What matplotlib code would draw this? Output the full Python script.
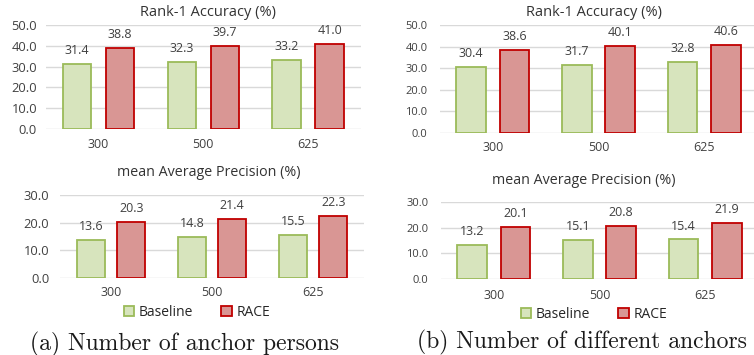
import matplotlib
matplotlib.use("Agg")
import matplotlib.pyplot as plt
import numpy as np

categories = ["300", "500", "625"]
series_names = ["Baseline", "RACE"]

# (a) Number of anchor persons
a_rank1_baseline = [31.4, 32.3, 33.2]
a_rank1_race = [38.8, 39.7, 41.0]
a_map_baseline = [13.6, 14.8, 15.5]
a_map_race = [20.3, 21.4, 22.3]

# (b) Number of different anchors
b_rank1_baseline = [30.4, 31.7, 32.8]
b_rank1_race = [38.6, 40.1, 40.6]
b_map_baseline = [13.2, 15.1, 15.4]
b_map_race = [20.1, 20.8, 21.9]

rank1_ticks = [0, 10, 20, 30, 40, 50]
map_ticks = [0, 10, 20, 30]

titles = ["Rank-1 Accuracy (%)", "mean Average Precision (%)"]
captions = ["(a) Number of anchor persons", "(b) Number of different anchors"]

W, H = 754, 355
fig = plt.figure(figsize=(W / 100, H / 100), dpi=100)

FONT = "Open Sans"
TXT = "#404040"
G_FILL, G_EDGE = "#D7E4BD", "#9BBB59"
R_FILL, R_EDGE = "#D99694", "#C00000"


def px_axes(x0, x1, ytop, ybot):
    return fig.add_axes([x0 / W, 1 - ybot / H, (x1 - x0) / W, (ybot - ytop) / H])


def draw(ax, base, race, ticks, pad_y, pad_x, yfs, fs, bw, off):
    x = np.arange(len(categories))
    b1 = ax.bar(x - off, base, bw, color=G_FILL, edgecolor=G_EDGE, linewidth=1.3, zorder=3)
    b2 = ax.bar(x + off, race, bw, color=R_FILL, edgecolor=R_EDGE, linewidth=1.3, zorder=3)
    for bars, vals in ((b1, base), (b2, race)):
        for r, v in zip(bars, vals):
            ax.annotate(f"{v:.1f}", (r.get_x() + r.get_width() / 2, v),
                        xytext=(0, 5), textcoords="offset points",
                        ha="center", va="bottom", fontsize=fs, color=TXT,
                        family=FONT)
    ax.set_xlim(-0.5, len(categories) - 0.5)
    ax.set_ylim(0, ticks[-1])
    ax.set_yticks(ticks)
    ax.set_yticklabels([f"{t:.1f}" for t in ticks], fontsize=yfs, color=TXT, family=FONT)
    ax.set_xticks(x)
    ax.set_xticklabels(categories, fontsize=fs, color=TXT, family=FONT)
    ax.tick_params(axis="y", length=0, pad=pad_y)
    ax.tick_params(axis="x", length=0, pad=pad_x)
    for s in ax.spines.values():
        s.set_visible(False)
    ax.yaxis.grid(True, color="#D9D9D9", linewidth=1.0, zorder=0)
    ax.set_axisbelow(True)
    return b1, b2


# panel (a)
ax1 = px_axes(46, 360.5, 25, 129)
h = draw(ax1, a_rank1_baseline, a_rank1_race, rank1_ticks, 6.5, 6.5, 9.3, 9, 0.27, 0.205)
ax2 = px_axes(60.5, 363.5, 195, 278)
draw(ax2, a_map_baseline, a_map_race, map_ticks, 8, 6, 9.3, 9, 0.28, 0.2)

# panel (b)
ax3 = px_axes(440, 757, 25, 133)
draw(ax3, b_rank1_baseline, b_rank1_race, rank1_ticks, 9, 6, 8, 9, 0.28, 0.205)
ax4 = px_axes(441, 758, 202, 279)
draw(ax4, b_map_baseline, b_map_race, map_ticks, 9, 7.5, 8, 9, 0.28, 0.205)

# titles
tkw = dict(ha="center", va="center", color="#333333", family=FONT)
fig.text(208 / W, 1 - 13 / H, titles[0], fontsize=10.5, **tkw)
fig.text(209 / W, 1 - 173 / H, titles[1], fontsize=10.3, **tkw)
fig.text(594 / W, 1 - 12 / H, titles[0], fontsize=10.5, **tkw)
fig.text(584 / W, 1 - 180 / H, titles[1], fontsize=10.3, **tkw)

# legends
for cx, cy in ((197, 312), (594, 314)):
    fig.legend(h, series_names, loc="center", bbox_to_anchor=(cx / W, 1 - cy / H),
               ncol=2, frameon=False, handlelength=0.75, handleheight=0.75,
               handletextpad=0.35, columnspacing=2.0, borderpad=0,
               prop={"family": FONT, "size": 10}, labelcolor="#262626")

# captions
fig.text(184 / W, 1 - 344 / H, captions[0], ha="center", va="center",
         fontsize=17, family="cmr10", color="#1a1a1a")
fig.text(582 / W, 1 - 342 / H, captions[1], ha="center", va="center",
         fontsize=17, family="cmr10", color="#1a1a1a")

fig.savefig("out.png", dpi=100)
